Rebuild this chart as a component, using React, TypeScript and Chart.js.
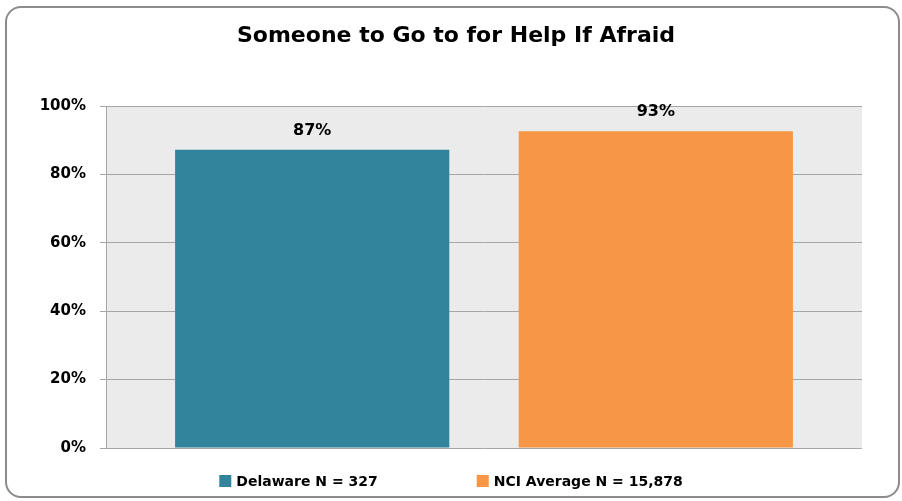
import React, { useEffect, useRef } from "react";
import { Chart, registerables } from "chart.js";

Chart.register(...registerables);

const TITLE = "Someone to Go to for Help If Afraid";
const CATEGORIES = [""];
const SERIES_LABELS = ["Delaware N = 327", "NCI Average N = 15,878"];
const DELAWARE = [87.2];
const NCI_AVERAGE = [92.6];
const SERIES_COLORS = ["#31849b", "#f79646"];
const Y_TICKS = [0, 20, 40, 60, 80, 100];

const FONT = "'DejaVu Sans', 'Open Sans', sans-serif";

const borderPlugin = {
  id: "outerBorder",
  beforeDraw(chart: any) {
    const ctx = chart.ctx;
    ctx.save();
    ctx.fillStyle = "#ffffff";
    ctx.fillRect(0, 0, chart.width, chart.height);
    const x = 6, y = 7, w = 893, h = 490, r = 15;
    ctx.beginPath();
    ctx.moveTo(x + r, y);
    ctx.lineTo(x + w - r, y);
    ctx.arcTo(x + w, y, x + w, y + r, r);
    ctx.lineTo(x + w, y + h - r);
    ctx.arcTo(x + w, y + h, x + w - r, y + h, r);
    ctx.lineTo(x + r, y + h);
    ctx.arcTo(x, y + h, x, y + h - r, r);
    ctx.lineTo(x, y + r);
    ctx.arcTo(x, y, x + r, y, r);
    ctx.closePath();
    ctx.strokeStyle = "#8c8c8c";
    ctx.lineWidth = 2;
    ctx.stroke();
    // title
    ctx.font = `bold 22px ${FONT}`;
    ctx.fillStyle = "#000000";
    ctx.textAlign = "center";
    ctx.textBaseline = "middle";
    ctx.fillText(TITLE, 456, 36);
    ctx.restore();
  },
};

const plotBgPlugin = {
  id: "plotBg",
  beforeDraw(chart: any) {
    const { ctx, chartArea } = chart;
    ctx.save();
    ctx.fillStyle = "#ebebeb";
    ctx.fillRect(chartArea.left, chartArea.top, chartArea.right - chartArea.left, chartArea.bottom - chartArea.top);
    ctx.restore();
  },
};

const dataLabelPlugin = {
  id: "dataLabels",
  afterDatasetsDraw(chart: any) {
    const ctx = chart.ctx;
    ctx.save();
    ctx.font = `bold 16px ${FONT}`;
    ctx.fillStyle = "#000000";
    ctx.textAlign = "center";
    ctx.textBaseline = "middle";
    chart.data.datasets.forEach((ds: any, i: number) => {
      const meta = chart.getDatasetMeta(i);
      meta.data.forEach((el: any, j: number) => {
        const v = ds.data[j];
        ctx.fillText(`${Math.round(v)}%`, el.x, el.y - 19);
      });
    });
    ctx.restore();
  },
};

const legendPlugin = {
  id: "customLegend",
  afterDraw(chart: any) {
    const ctx = chart.ctx;
    ctx.save();
    ctx.font = `bold 14px ${FONT}`;
    ctx.textBaseline = "middle";
    const box = 12, gapText = 5, gapItem = 99;
    const items = chart.data.datasets.map((ds: any) => ({
      text: ds.label,
      color: ds.backgroundColor,
      w: box + gapText + ctx.measureText(ds.label).width,
    }));
    const total = items.reduce((s: number, it: any) => s + it.w, 0) + gapItem * (items.length - 1);
    let x = chart.width / 2 - total / 2;
    const y = 481;
    items.forEach((it: any) => {
      ctx.fillStyle = it.color;
      ctx.fillRect(x, y - box / 2, box, box);
      ctx.fillStyle = "#000000";
      ctx.textAlign = "left";
      ctx.fillText(it.text, x + box + gapText, y + 1);
      x += it.w + gapItem;
    });
    ctx.restore();
  },
};

export default function App() {
  const ref = useRef<HTMLCanvasElement | null>(null);
  useEffect(() => {
    if (!ref.current) return;
    const chart = new Chart(ref.current, {
      type: "bar",
      data: {
        labels: CATEGORIES,
        datasets: [
          { label: SERIES_LABELS[0], data: DELAWARE, backgroundColor: SERIES_COLORS[0], barPercentage: 0.798, categoryPercentage: 0.909 },
          { label: SERIES_LABELS[1], data: NCI_AVERAGE, backgroundColor: SERIES_COLORS[1], barPercentage: 0.798, categoryPercentage: 0.909 },
        ],
      },
      options: {
        responsive: false,
        animation: false,
        layout: { padding: { left: 10, right: 40, top: 106, bottom: 53 } },
        plugins: {
          legend: { display: false },
          tooltip: { enabled: false },
          title: { display: false },
        },
        scales: {
          x: { display: false },
          y: {
            min: 0,
            max: 100,
            afterBuildTicks: (s: any) => {
              s.ticks = Y_TICKS.map((v) => ({ value: v }));
            },
            afterFit: (s: any) => {
              s.width = 96;
            },
            ticks: {
              color: "#000000",
              font: { family: FONT, size: 15, weight: "bold" },
              padding: 14,
              callback: (v: any) => `${v}%`,
            },
            grid: { color: "#a6a6a6", tickLength: 6, drawTicks: true },
            border: { display: true, color: "#a6a6a6" },
          },
        },
      },
      plugins: [borderPlugin, plotBgPlugin, dataLabelPlugin, legendPlugin],
    });
    return () => chart.destroy();
  }, []);
  return (
    <div style={{ position: "fixed", left: 0, top: 0, width: 902, height: 501 }}>
      <canvas ref={ref} width={902} height={501} style={{ display: "block" }} />
    </div>
  );
}
